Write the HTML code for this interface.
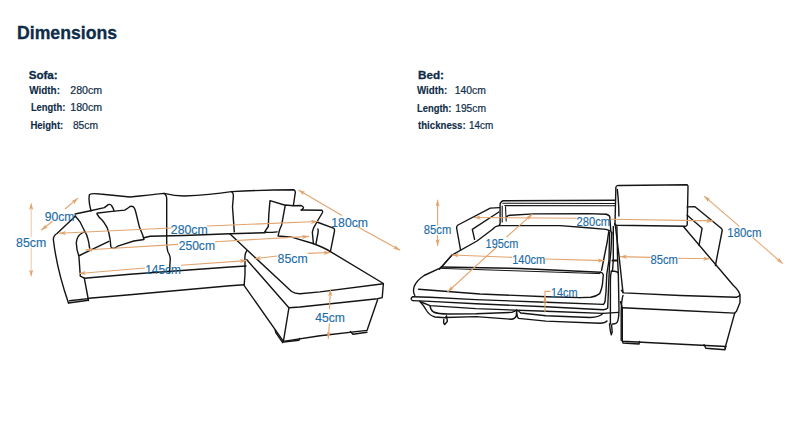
<!DOCTYPE html>
<html><head><meta charset="utf-8">
<style>
html,body{margin:0;padding:0;background:#fff;width:797px;height:447px;overflow:hidden}
svg{display:block}
.t{font-family:"Liberation Sans",sans-serif;fill:#0e2c47;stroke:#0e2c47;stroke-width:0.2}
.b{font-weight:bold;stroke-width:0.3}
.lb{font-family:"Liberation Sans",sans-serif;fill:#1d6ca8;stroke:#1d6ca8;stroke-width:0.15;font-size:12.5px}
.k{fill:none;stroke:#141414;stroke-width:1.4;stroke-linecap:round;stroke-linejoin:round}
.o{fill:none;stroke:#e2a46e;stroke-width:1.1}
</style></head><body>
<svg width="797" height="447" viewBox="0 0 797 447">
<defs>
<marker id="ah" viewBox="0 0 10 6" refX="10" refY="3" markerWidth="7" markerHeight="4.2" markerUnits="userSpaceOnUse" orient="auto-start-reverse">
<path d="M0,0 L10,3 L0,6 L2.5,3 Z" fill="#e2a46e"/>
</marker>
</defs>
<rect width="797" height="447" fill="#fff"/>

<!-- header text -->
<text class="t b" x="17" y="38.6" font-size="18" textLength="100" lengthAdjust="spacingAndGlyphs">Dimensions</text>
<text class="t b" x="28.7" y="78.5" font-size="11.5" textLength="29" lengthAdjust="spacingAndGlyphs">Sofa:</text>
<text class="t b" style="stroke-width:0.12" x="29.2" y="93.6" font-size="10" textLength="30.8" lengthAdjust="spacingAndGlyphs">Width:</text>
<text class="t" style="stroke-width:0.2" x="70.3" y="93.6" font-size="10.4" textLength="31.9" lengthAdjust="spacingAndGlyphs">280cm</text>
<text class="t b" style="stroke-width:0.12" x="30.9" y="111.2" font-size="10" textLength="34.4" lengthAdjust="spacingAndGlyphs">Length:</text>
<text class="t" style="stroke-width:0.2" x="70.3" y="111.2" font-size="10.4" textLength="31.9" lengthAdjust="spacingAndGlyphs">180cm</text>
<text class="t b" style="stroke-width:0.12" x="30.4" y="128.8" font-size="10" textLength="32.9" lengthAdjust="spacingAndGlyphs">Height:</text>
<text class="t" style="stroke-width:0.2" x="72.9" y="128.8" font-size="10.4" textLength="25.1" lengthAdjust="spacingAndGlyphs">85cm</text>

<text class="t b" x="418" y="78.9" font-size="11.5" textLength="25.9" lengthAdjust="spacingAndGlyphs">Bed:</text>
<text class="t b" style="stroke-width:0.12" x="417" y="93.9" font-size="10" textLength="30.2" lengthAdjust="spacingAndGlyphs">Width:</text>
<text class="t" style="stroke-width:0.2" x="454.7" y="93.9" font-size="10.4" textLength="31.1" lengthAdjust="spacingAndGlyphs">140cm</text>
<text class="t b" style="stroke-width:0.12" x="417" y="112.2" font-size="10" textLength="34.4" lengthAdjust="spacingAndGlyphs">Length:</text>
<text class="t" style="stroke-width:0.2" x="455.2" y="112.2" font-size="10.4" textLength="30.8" lengthAdjust="spacingAndGlyphs">195cm</text>
<text class="t b" style="stroke-width:0.12" x="418" y="129" font-size="10" textLength="47.7" lengthAdjust="spacingAndGlyphs">thickness:</text>
<text class="t" style="stroke-width:0.2" x="469" y="129" font-size="10.4" textLength="24.3" lengthAdjust="spacingAndGlyphs">14cm</text>

<!-- LEFT SOFA -->
<g class="k">
<!-- arm outer -->
<path d="M68.5,303 Q57,270 53.4,240 Q53,236 57,233.5 L75.5,216"/>
<path d="M68.5,303 L88.3,300.3 M69.5,300.8 L88,298.6"/>
<!-- arm inner -->
<path d="M84.7,231.8 Q79,234 77.7,237.5 Q76,241 76.4,243.9 Q76.5,250 78.9,256 L80.3,276.2 L84.3,278.2 L88.5,300.5"/>
<!-- seat front & base -->
<path d="M84.3,278.2 L130,274.2 L230,267 L246,266"/>
<path d="M89,298.3 L130,294.7 L230,285.8 L244.2,284.7"/>
<!-- back cushions top -->
<path d="M91,211 Q88,200 89.5,194.5 Q92,193 100,194 L130,197 Q150,195 164,193.4 Q175,196 184,196 Q210,195 231.5,191.6 Q262,190 294,189.8 Q296,191 295,194.5 L293.4,205.5"/>
<path d="M164,193.4 Q167,195 166.7,200 L166.7,237 Q166.5,248 168,252 Q170.5,256 170.2,260 L169.4,273.3"/>
<path d="M231.6,191.6 Q233.6,193 233.4,196 L232.5,206.8 L234.3,231.9"/>
<!-- pillow 1 -->
<path d="M75.1,214 L90.4,210.8 L104.4,207.6 Q107,205.5 108.3,204.6 Q110.5,203.8 111.5,205.5 Q113.5,208.5 114,210.8"/>
<path d="M75.1,215.9 Q78,219 80.2,222.2 L84.7,231.2 Q87,235 87.9,238.8 Q89.2,244 89.1,245.2 L89.8,249"/>
<!-- pillow 2 -->
<path d="M97.4,214.6 Q96,213.2 98,213 L112.1,211.4 L124.8,210.1 Q128,208 130,206.5 Q133.5,205.5 134.6,208.5 Q135.5,211 136,213 L139.5,227.3 L142.7,235 Q143.5,238 144,239.5 L133.8,241 L118.5,245.8 Q115,248.5 113.4,248.4 Q111,248 110.8,246.5 L110.2,240 Q109,232 107,227.3 Q104,222 101.9,219.7 Q98.5,217 97.4,214.6 Z"/>
<!-- seat back line -->
<path d="M79.5,255.5 L108.9,241.4"/>
<path d="M144,237.8 L150,236.3 L183.7,235.5 L230,233.7 L265,232.7"/>
<!-- pillow 3 -->
<path d="M284.4,205 L270,200.6 Q268.5,215 268.3,226.5 L264.7,231.9 Q266,233 277.2,231.9"/>
<!-- pillow 4 -->
<path d="M313,243.5 L291.6,237.2 L278.1,236 Q279,230 281.7,224.7 L285.3,205 L293.4,205.8 L301.2,205.5 Q304,207 303.4,208 Q302,210 301.2,210"/>
<!-- chaise back/arm -->
<path d="M301.2,210 L321.9,210.2 Q323,211 322.5,212.5 L316.9,222 L313.5,228.2 Q312,232 312.5,234 L313.4,243.5"/>
<path d="M316.9,222 L334,228.3 Q334.8,229.5 334.5,231 L330.4,251.6"/>
<path d="M317.9,229 Q318.5,231 318,233 L316,243.5"/>
<!-- chaise seat -->
<path d="M229.8,233.7 L246.8,249.8 L291.6,291.5 Q295,293.8 300,293.7 L320,291.9 L383.4,283.8"/>
<path d="M313,243.5 Q325,248 330.4,251.6 L383.4,283.5 L382.2,297.6 L377.5,298.8 L300,307 L288.9,307.8"/>
<path d="M246.8,250.7 Q244.5,254 245,259.7 L245,274 L244.2,284.7"/>
<path d="M246.8,259.7 L288.9,307.8 L283.4,341.4"/>
<path d="M244.2,285.6 L283.4,341.4 L320,335.8 L367,330.4 L377.5,300"/>
<path d="M275.2,330 L275.8,332.6 L282.7,342.7 M283.4,342 L299,340.2 L299.7,338.5 M350.5,331.6 L352.9,334.3 L367,332.2"/>
</g>
<!-- left orange dims -->
<g class="o">
<path d="M52.4,221.2 L41.3,230.2" marker-end="url(#ah)"/>
<path d="M65,209 L78,198.2" marker-end="url(#ah)"/>
<path d="M31.2,237 L31.2,203" style="stroke-width:0.6" marker-end="url(#ah)"/>
<path d="M31.2,248 L31.2,276.6" style="stroke-width:0.6" marker-end="url(#ah)"/>
<path d="M171,228 L59.1,233.3" marker-end="url(#ah)"/>
<path d="M207,226 L317.9,221.5" marker-end="url(#ah)"/>
<path d="M178,244.4 L85.3,250" marker-end="url(#ah)"/>
<path d="M215,241.7 L309,236.4" marker-end="url(#ah)"/>
<path d="M145,268 L78.9,273.5" marker-end="url(#ah)"/>
<path d="M181,265.2 L246.8,260.6" marker-end="url(#ah)"/>
<path d="M342,215.5 L298.4,190.1" marker-end="url(#ah)"/>
<path d="M357,226.5 L400.2,250.2" marker-end="url(#ah)"/>
<path d="M277,256 L254,258.8" marker-end="url(#ah)"/>
<path d="M307.7,253.4 L330.4,252.5" marker-end="url(#ah)"/>
<path d="M329.4,309.3 L330.5,289.3" marker-end="url(#ah)"/>
<path d="M329.4,323.4 L328.2,338.7" marker-end="url(#ah)"/>
</g>
<!-- left labels -->
<text class="lb" x="44.7" y="221.2" textLength="29.8" lengthAdjust="spacingAndGlyphs">90cm</text>
<text class="lb" x="16.1" y="247" textLength="30.2" lengthAdjust="spacingAndGlyphs">85cm</text>
<text class="lb" x="170.8" y="233.7" textLength="37" lengthAdjust="spacingAndGlyphs">280cm</text>
<text class="lb" x="178.7" y="250" textLength="36.3" lengthAdjust="spacingAndGlyphs">250cm</text>
<text class="lb" x="145.2" y="273.6" textLength="35.8" lengthAdjust="spacingAndGlyphs">145cm</text>
<text class="lb" x="331.3" y="226.9" textLength="36.7" lengthAdjust="spacingAndGlyphs">180cm</text>
<text class="lb" x="277.6" y="262.9" textLength="30.1" lengthAdjust="spacingAndGlyphs">85cm</text>
<text class="lb" x="315.3" y="322.2" textLength="29.7" lengthAdjust="spacingAndGlyphs">45cm</text>


<!-- RIGHT SOFA BED -->
<g class="k">
<!-- left arm -->
<path d="M460.5,249.6 L456.6,228 Q456.5,226 458,225 L490.3,208.1 L499.6,207.6"/>
<path d="M474.6,239.4 L472.3,229.3 L498.9,212"/>
<!-- seat diagonal / mattress back-left -->
<path d="M439.4,269.2 Q444,264 451.9,255.1 L477,241 L492.6,229.3 Q495,226 499,225.6 L560,225.6 L587.6,227.7 L606,229.4 L610.4,230.9"/>
<!-- back frame -->
<path d="M499,225.6 Q500.5,224 500.1,222 L500.1,204 Q501,201 503.5,200.7 L615,200.3"/>
<path d="M502.8,203.2 L615,203.5 M504.8,205.6 L615,205.8" style="stroke-width:1.1"/>
<path d="M502.2,206 L502.2,222 M505.5,206.8 L506.2,221" style="stroke-width:1.1"/>
<path d="M506.7,216.7 Q508,215 510.6,215.2 L533.7,213.9 L587.6,213.6 L606,214.2"/>
<!-- mattress -->
<path d="M451.9,255.1 Q446,262 441.1,267.6 L424.1,275.5 Q416,281 414,287 Q412.8,292 414.8,295.3" />
<path d="M441.1,267 L520,268.5 L600.6,272.2"/><path d="M580,297.6 L546.7,296.7 L480,294 L418.6,289.3"/>
<path d="M441.5,268.4 L600,273.6" style="stroke-width:1"/>
<!-- rail -->
<path d="M413,296.7 Q410.8,297.8 411.3,299.3 Q411.8,300.6 413,300.6"/>
<path d="M413,296.7 L430,297.3 L476,299.6 L546,302.3 L603.3,304.4"/>
<!-- lower frame -->
<path d="M413,300.6 L430,301.4 L476,303.7 L546,306.8 L603.3,309.7 Q606.5,309.5 607.7,308 L608.6,286.5 L609.5,265 L611,250 L611.8,232.4"/>
<path d="M419.6,301.2 Q424,305.5 426.5,310.5 Q429.5,315.5 435,317 L445.5,317.8 L446.5,315.8 L447.4,321.3 L444.7,324.5 L443.6,322.8 L443.8,319.5"/>
<path d="M421,302 L430,305.6 L476,308.6 L546,311.3 L603,313.4 L618.5,312.4"/>
<path d="M430,305.6 Q430.5,310 433.5,312 Q438,314 448,314 L476,313.8 L511.8,312.4 Q514.5,311.5 516.7,310.2 Q519,311 520.8,313 L546,315.8 L590,317.5 Q600,317 603,313.4"/>
<path d="M445.5,317.5 L476,316.6 L511.8,319.3 Q515.5,318.5 516.3,315.8 L516.7,310.2 M516.7,311 Q517,317 518.5,318.4 L546,321.1 L600,323.2 Q605,323 607,321"/>
<!-- right vertical cluster -->
<path d="M608.9,230.9 Q608,236 607.4,241 L604,258 L601.6,270.2"/>
<path d="M609.6,232.4 L609,260 L606.8,274 L606,291.8 L605,301.7 Q604.5,303.8 603.3,304.4"/>
<path d="M613.3,226.5 L613.3,260 L612.5,271 L611.3,271.3 Q610.4,275 610.4,281.1 L610.4,324 L609.5,324 L610.4,331.2 L611.3,334.8 L612.2,332 L611.6,325"/>
<path d="M611.3,271.3 L614.5,271.3 Q617.5,271.8 618.3,273 L619,309.7 Q618.8,320 617,322.5 Q615.5,324.3 612.2,324"/>
<path d="M616.9,226.5 L617.6,260 L618.3,273"/>
<path d="M614.7,223.6 Q614.8,225 615.4,225.8 L619,255.6 L621.3,277 L623,292.7"/>
<path d="M623,295.4 Q621.5,300 621.2,311.5 L621.2,340.2"/>
<path d="M612.5,260.6 L616.9,260.6" style="stroke-width:2"/>
<path d="M600.6,272.2 Q603,273 603.3,274.8 L602.4,284.7 Q601.5,290 599.7,293.6 Q596,296.5 590.7,297.2 L580,297.6"/>
<path d="M606,214.2 Q609.6,215 609.8,217 L610.4,226 L610.8,231 L611.8,233.1"/>
<!-- chaise pillow -->
<path d="M616.7,186 Q617,185.3 620,185.5 L687.2,184.7 Q688.3,185.5 688,187 L687.2,225 Q686.5,226.2 685.5,226.2 L616.7,225.3 Q615,225 615,223.5 L615.9,187"/>
<path d="M617.3,189.4 Q619,205 618.9,216"/>
<!-- chaise arm -->
<path d="M687.2,206.9 L695,206.8 L721.2,228.3 Q722.4,229.5 722.2,230.5 L715.4,265.5"/>
<path d="M687.2,215.3 L702.1,228.3 L699,245.4"/>
<path d="M683.8,227 L733,285 Q740,291.5 740,296 L740,302.6 L736.5,311.3 L734.7,313.1 L725,348.2"/>
<path d="M621.4,290.3 Q622.5,292.5 624,292.9 L680.3,295.5 L736.5,297.3 Q739.5,296.5 740,294.7"/>
<path d="M622.3,307.8 L680.3,310.5 L734.7,313.1"/>
<path d="M620.5,301.7 L622.3,307.8 L622.3,341.2 L726,346.5"/>
<path d="M622.3,340.5 L623,343 L639,344 L639.5,341.5 M704,344.7 L706,348.3 L725,349.7 L725.5,347.5"/>
</g>
<g class="o">
<path d="M437.6,225.5 L437.6,199.7" marker-end="url(#ah)"/>
<path d="M437.6,235 L437.6,246" marker-end="url(#ah)"/>
<path d="M576.6,218.3 L473.8,217.5" marker-end="url(#ah)"/>
<path d="M610.2,219.2 L713.2,220.9" marker-end="url(#ah)"/>
<path d="M506.7,237 L532.3,214.2" marker-end="url(#ah)"/>
<path d="M497.3,246.5 L447.5,292" marker-end="url(#ah)"/>
<path d="M512.2,257.4 L451.7,255" marker-end="url(#ah)"/>
<path d="M545.3,259 L604.6,260.6" marker-end="url(#ah)"/>
<path d="M650.5,257.4 L620,256.6" marker-end="url(#ah)"/>
<path d="M677.9,258.3 L710,258.8" marker-end="url(#ah)"/>
<path d="M739.4,226.3 L704.1,196.1" marker-end="url(#ah)"/>
<path d="M752.5,237.4 L782.7,263.6" marker-end="url(#ah)"/>
<path d="M545,312.5 L545,296" marker-end="url(#ah)"/>
<path d="M545,300 L545,291.4 L550.5,291.4"/>
</g>
<text class="lb" x="423.8" y="233.9" textLength="27.5" lengthAdjust="spacingAndGlyphs">85cm</text>
<text class="lb" x="576.6" y="225.7" textLength="33.6" lengthAdjust="spacingAndGlyphs">280cm</text>
<text class="lb" x="485.6" y="248" textLength="32.8" lengthAdjust="spacingAndGlyphs">195cm</text>
<text class="lb" x="512.2" y="264" textLength="33.1" lengthAdjust="spacingAndGlyphs">140cm</text>
<text class="lb" x="650.5" y="263.6" textLength="27.4" lengthAdjust="spacingAndGlyphs">85cm</text>
<text class="lb" x="727.3" y="237.4" textLength="34.2" lengthAdjust="spacingAndGlyphs">180cm</text>
<text class="lb" x="550.9" y="297" textLength="26.8" lengthAdjust="spacingAndGlyphs">14cm</text>
</svg>
</body></html>
